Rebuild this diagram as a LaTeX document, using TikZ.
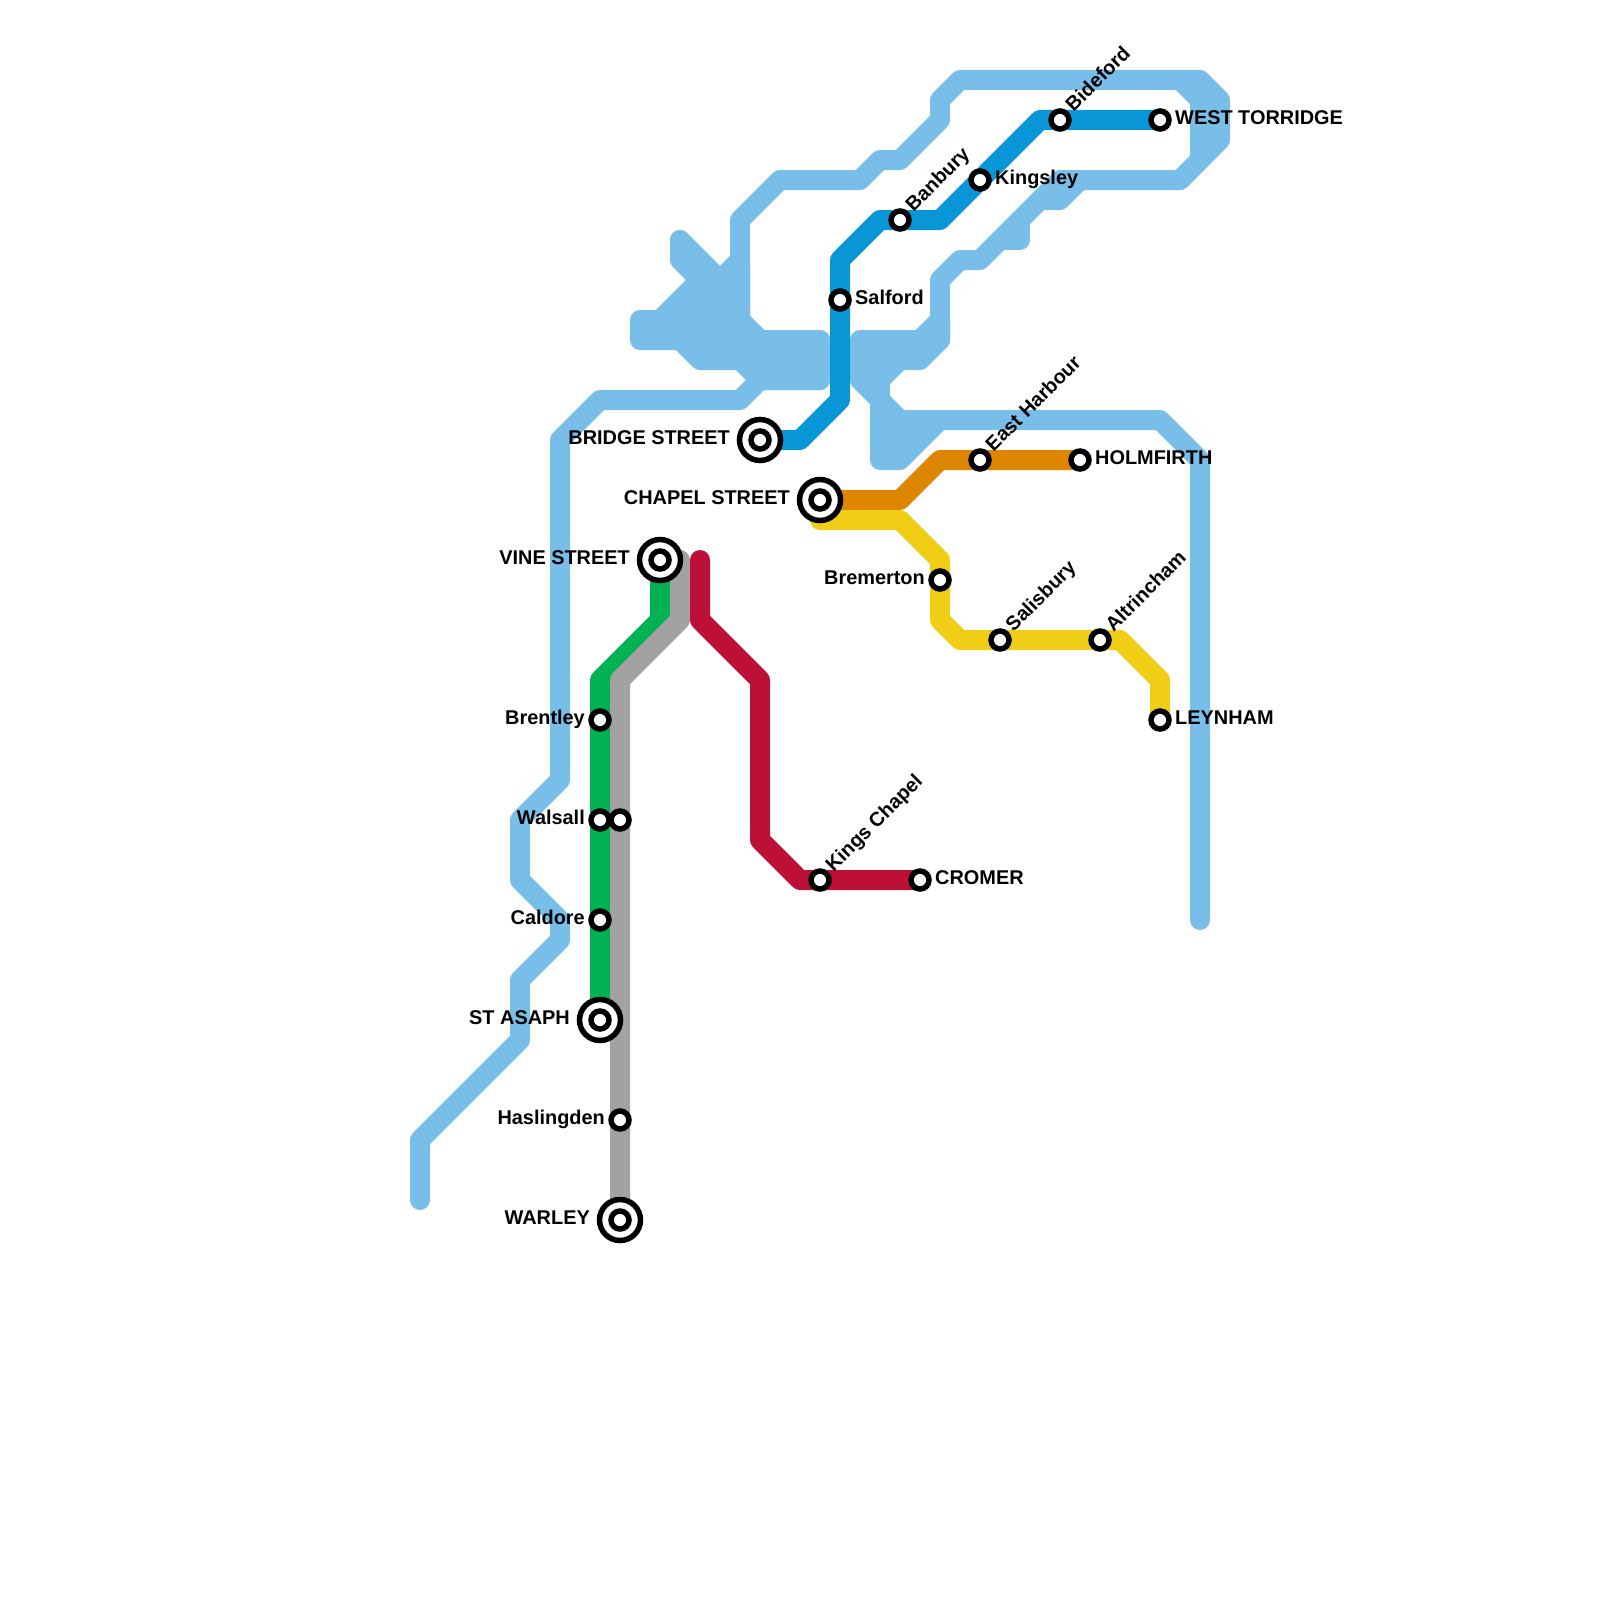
\documentclass[tikz,border=0pt]{standalone}
\usepackage{fontspec}
\setmainfont{Liberation Sans}
\pgfdeclarelayer{lines}
\pgfsetlayers{lines,main}
\definecolor{lightb}{HTML}{79BDE9}
\definecolor{darkb}{HTML}{0896D7}
\definecolor{grn}{HTML}{00B251}
\definecolor{gry}{HTML}{A2A2A2}
\definecolor{redl}{HTML}{BD1038}
\definecolor{orng}{HTML}{DF8600}
\definecolor{yllw}{HTML}{F0CE15}
\tikzset{
  route/.style={line width=20pt,line cap=round,line join=round},
  area/.style={route,draw=lightb,fill=lightb},
  stn/.style={circle,draw=black,fill=white,line width=5.5pt,minimum size=18pt,inner sep=0pt},
  hub/.style={circle,draw=black,fill=white,line width=5.5pt,minimum size=41pt,inner sep=0pt},
  lab/.style={font=\fontsize{19.9}{20}\selectfont\bfseries,text=black,inner sep=0pt},
  labr/.style={lab,anchor=base west,yshift=0.3pt},
  labl/.style={lab,anchor=base east,yshift=0.3pt},
  labd/.style={lab,anchor=base west,rotate=45}
}
\begin{document}
\begin{tikzpicture}[x=1pt,y=-1pt]
\useasboundingbox (0,0) rectangle (1600,1600);
% stations
\node[hub] (bridge) at (760,440) {}; \node[stn] (bridgei) at (760,440) {};
\node[hub] (chapel) at (820,500) {}; \node[stn] (chapeli) at (820,500) {};
\node[hub] (vine) at (660,560) {}; \node[stn] (vinei) at (660,560) {};
\node[hub] (asaph) at (600,1020) {}; \node[stn] (asaphi) at (600,1020) {};
\node[hub] (warley) at (620,1220) {}; \node[stn] (warleyi) at (620,1220) {};
\node[stn] (brentley) at (600,720) {};
\node[stn] (walsall) at (600,820) {};
\node[stn] (walsallb) at (620,820) {};
\node[stn] (caldore) at (600,920) {};
\node[stn] (hasling) at (620,1120) {};
\node[stn] (salford) at (840,300) {};
\node[stn] (banbury) at (900,220) {};
\node[stn] (kingsley) at (980,180) {};
\node[stn] (bideford) at (1060,120) {};
\node[stn] (westt) at (1160,120) {};
\node[stn] (eastharb) at (980,460) {};
\node[stn] (holm) at (1080,460) {};
\node[stn] (bremer) at (940,580) {};
\node[stn] (salis) at (1000,640) {};
\node[stn] (altrin) at (1100,640) {};
\node[stn] (leyn) at (1160,720) {};
\node[stn] (kingsc) at (820,880) {};
\node[stn] (cromer) at (920,880) {};
% labels
\node[labl] (lbridge) at (730,445) {BRIDGE STREET};
\node[labl] (lchapel) at (790,505) {CHAPEL STREET};
\node[labl] (lvine) at (630,565) {VINE STREET};
\node[labl] (lasaph) at (570,1025) {ST ASAPH};
\node[labl] (lwarley) at (590,1225) {WARLEY};
\node[labl] (lbrentley) at (585,725) {Brentley};
\node[labl] (lwalsall) at (585,825) {Walsall};
\node[labl] (lcaldore) at (585,925) {Caldore};
\node[labl] (lhasling) at (605,1125) {Haslingden};
\node[labl] (lbremer) at (925,585) {Bremerton};
\node[labr] (lsalford) at (855,305) {Salford};
\node[labr] (lkingsley) at (995,185) {Kingsley};
\node[labr] (lwestt) at (1175,125) {WEST TORRIDGE};
\node[labr] (lholm) at (1095,465) {HOLMFIRTH};
\node[labr] (lleyn) at (1175,725) {LEYNHAM};
\node[labr] (lcromer) at (935,885) {CROMER};
\node[labd] (lbanbury) at (913.5,212.5) {Banbury};
\node[labd] (lbideford) at (1073.5,112.5) {Bideford};
\node[labd] (least) at (993.5,452.5) {East Harbour};
\node[labd] (lsalis) at (1013.5,632.5) {Salisbury};
\node[labd] (laltrin) at (1113.5,632.5) {Altrincham};
\node[labd] (lkingsc) at (833.5,872.5) {Kings Chapel};
\begin{pgfonlayer}{lines}
% light blue network
\draw[route,lightb] (420,1200) -- (420,1140) -- (520,1040) -- (520,980) -- (560,940) -- (560,920) -- (520,880) -- (520,820) -- (560,780) -- (560,440) -- (600,400) -- (740,400) -- (760,380) -- (820,380);
\draw[route,lightb] (820,340) -- (760,340) -- (740,320) -- (740,220) -- (780,180) -- (860,180) -- (880,160) -- (900,160) -- (940,120) -- (940,100) -- (960,80) -- (1200,80) -- (1220,100) -- (1220,140) -- (1180,180) -- (1060,180) -- (980,260) -- (960,260) -- (940,280) -- (940,340);
\draw[route,lightb] (1180,80) -- (1200,100) -- (1200,160) -- (1180,180);
\draw[route,lightb] (1000,240) -- (1020,240) -- (1020,220);
\draw[route,lightb] (1040,200) -- (1060,200) -- (1080,180);
\draw[area] (640,320) -- (660,320) -- (700,280) -- (720,280) -- (740,260) -- (740,320) -- (760,340) -- (820,340) -- (820,380) -- (760,380) -- (740,360) -- (700,360) -- (680,340) -- (640,340) -- cycle;
\draw[route,lightb] (680,240) -- (680,260) -- (720,300);
\draw[route,lightb] (680,240) -- (740,300);
\draw[area] (860,340) -- (920,340) -- (940,320) -- (940,340) -- (920,360) -- (900,360) -- (880,380) -- (880,400) -- (860,380) -- cycle;
\draw[area] (880,400) -- (900,420) -- (940,420) -- (900,460) -- (880,460) -- cycle;
\draw[route,lightb] (940,420) -- (1160,420) -- (1200,460) -- (1200,920);
% coloured lines
\draw[route,darkb] (bridge.center) -- (800,440) -- (840,400) -- (salford.center) -- (840,260) -- (880,220) -- (banbury.center) -- (940,220) -- (kingsley.center) -- (1040,120) -- (bideford.center) -- (westt.center);
\draw[route,orng] (chapel.center) -- (900,500) -- (940,460) -- (eastharb.center) -- (holm.center);
\draw[route,yllw] (820,520) -- (900,520) -- (940,560) -- (bremer.center) -- (940,620) -- (960,640) -- (salis.center) -- (altrin.center) -- (1120,640) -- (1160,680) -- (leyn.center);
\draw[route,grn] (vine.center) -- (660,620) -- (600,680) -- (brentley.center) -- (walsall.center) -- (caldore.center) -- (asaph.center);
\draw[route,gry] (680,560) -- (680,620) -- (620,680) -- (walsallb.center) -- (hasling.center) -- (warley.center);
\draw[route,redl] (700,560) -- (700,620) -- (760,680) -- (760,840) -- (800,880) -- (kingsc.center) -- (cromer.center);
\end{pgfonlayer}
\end{tikzpicture}
\end{document}
